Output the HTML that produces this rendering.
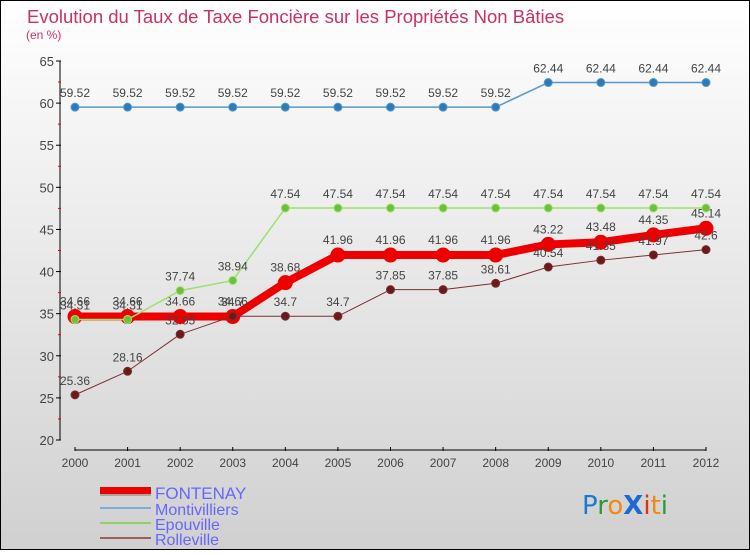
<!DOCTYPE html>
<html><head><meta charset="utf-8"><style>
body{margin:0;}
#c{width:750px;height:550px;position:relative;font-family:"Liberation Sans",sans-serif;}
</style></head><body>
<div id="c">
<svg id="s" width="750" height="550" xmlns="http://www.w3.org/2000/svg">
<defs><linearGradient id="bg" x1="0" y1="0" x2="0" y2="1"><stop offset="0" stop-color="#ffffff"/><stop offset="1" stop-color="#d0d0d0"/></linearGradient></defs>
<rect x="0.5" y="0.5" width="749" height="549" fill="url(#bg)" stroke="#000"/>
<text x="27" y="23" font-size="18.5" fill="#c8325f">Evolution du Taux de Taxe Foncière sur les Propriétés Non Bâties</text>
<text x="26" y="39" font-size="12" fill="#c8325f">(en %)</text>
<g id="axes"></g><g id="series"></g>
<g>
<rect x="100" y="489" width="51" height="7" fill="#777" opacity="0.5"/><rect x="100" y="487" width="51" height="7" fill="#e00"/>
<text x="155" y="499" font-size="17" fill="#6666ff">FONTENAY</text>
<line x1="100" y1="508" x2="151" y2="508" stroke="#7aaed6" stroke-width="2"/>
<text x="155" y="515" font-size="16" fill="#6666ff">Montivilliers</text>
<line x1="100" y1="523" x2="151" y2="523" stroke="#8fd16a" stroke-width="2"/>
<text x="155" y="530" font-size="16" fill="#6666ff">Epouville</text>
<line x1="100" y1="538" x2="151" y2="538" stroke="#9a6060" stroke-width="2"/>
<text x="155" y="545" font-size="16" fill="#6666ff">Rolleville</text>
</g>
<g font-size="26" font-family="'DejaVu Sans',sans-serif">
<text x="582" y="514"><tspan fill="#1a7ad0">P</tspan><tspan fill="#2a9a3a">r</tspan><tspan fill="#f08a10">o</tspan><tspan fill="#1a6ad0" font-weight="bold">X</tspan><tspan fill="#e03010">i</tspan><tspan fill="#f08a10">t</tspan><tspan fill="#2a9a3a">i</tspan></text>
</g>
</svg></div>
<script>
const years=[2000,2001,2002,2003,2004,2005,2006,2007,2008,2009,2010,2011,2012];
const yTicks=[20,25,30,35,40,45,50,55,60,65];
const fontenay=[34.66,34.66,34.66,34.66,38.68,41.96,41.96,41.96,41.96,43.22,43.48,44.35,45.14];
const montivilliers=[59.52,59.52,59.52,59.52,59.52,59.52,59.52,59.52,59.52,62.44,62.44,62.44,62.44];
const epouville=[34.31,34.31,37.74,38.94,47.54,47.54,47.54,47.54,47.54,47.54,47.54,47.54,47.54];
const rolleville=[25.36,28.16,32.55,34.7,34.7,34.7,37.85,37.85,38.61,40.54,41.35,41.97,42.6];
const NS="http://www.w3.org/2000/svg";
const xS=i=>75+i*(706-75)/(years.length-1);
const yS=v=>440-(v-20)*(440-61)/45;
function mk(t,a,p){const e=document.createElementNS(NS,t);for(const k in a)e.setAttribute(k,a[k]);p.appendChild(e);return e;}
const ax=document.getElementById('axes');
const yl=mk('line',{x1:60,y1:yS(65),x2:60,y2:yS(20),stroke:'#000'},ax);


yTicks.forEach(v=>{
  mk('line',{x1:56,y1:yS(v),x2:61,y2:yS(v),stroke:'#000'},ax);
  if(v<65)mk('line',{x1:58,y1:yS(v+2.5),x2:61,y2:yS(v+2.5),stroke:'#e00'},ax);
  const t=mk('text',{x:54,y:yS(v)+5,'text-anchor':'end','font-size':'13',fill:'#444'},ax);t.textContent=v;
  
  
});
const xl=mk('line',{x1:xS(0),y1:450,x2:xS(12),y2:450,stroke:'#000'},ax);


years.forEach((y,i)=>{
  mk('line',{x1:xS(i),y1:447,x2:xS(i),y2:451,stroke:'#000'},ax);
  const t=mk('text',{x:xS(i),y:467,'text-anchor':'middle','font-size':'12',fill:'#444'},ax);t.textContent=y;
  
  
});
const sg=document.getElementById('series');
function series(name,data,color,dot,w,r,dy){
  const g=mk('g',{},sg);
  
  
  mk('polyline',{points:data.map((v,i)=>xS(i)+','+yS(v)).join(' '),fill:'none',stroke:color,'stroke-width':w,'stroke-linejoin':'round'},g);
  data.forEach((v,i)=>{
    const c=mk('circle',{cx:xS(i),cy:yS(v),r:r,fill:dot,stroke:color,'stroke-width':1},g);
    
    
    const t=mk('text',{x:xS(i),y:yS(v)+dy,'text-anchor':'middle','font-size':'12',fill:'#444'},g);t.textContent=v;
    
    
  });
}
series('fontenay',fontenay,'#ee0000','#ee0000',8,7,-11);
series('rolleville',rolleville,'#7a3030','#6a1a1a',1,4,-10);
series('epouville',epouville,'#9ee070','#6cc03a',1.5,4,-10);
series('montivilliers',montivilliers,'#5599cc','#2e7ab8',1.5,4,-10);
</script>
</body></html>
